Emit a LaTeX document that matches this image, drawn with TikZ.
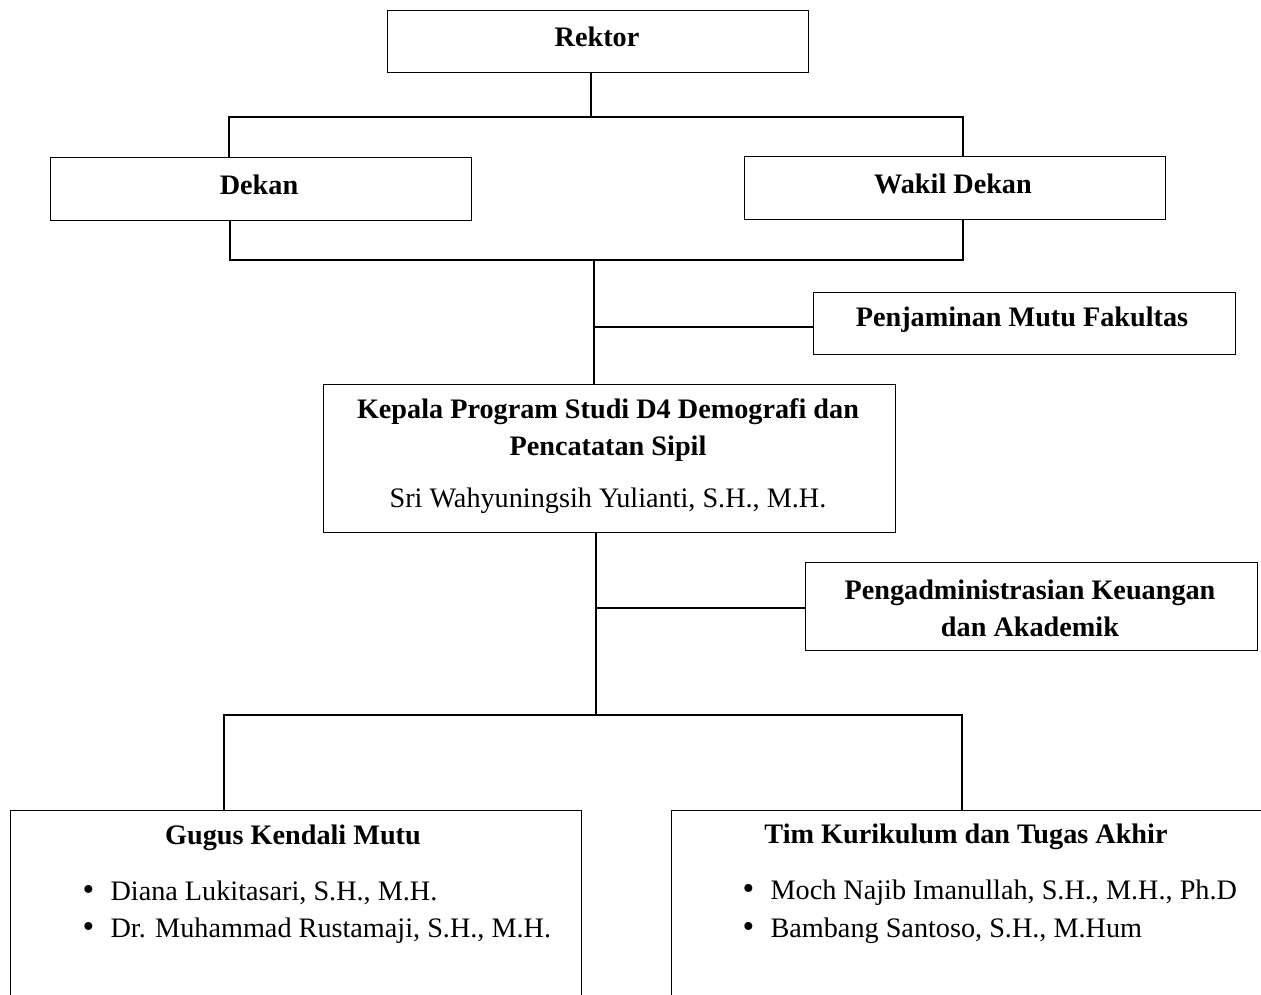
\documentclass[tikz,border=0pt]{standalone}
\usepackage{fontspec}
\setmainfont{Liberation Serif}
\usetikzlibrary{calc,positioning}

\tikzset{
	box/.style={draw, anchor=north west, inner sep=0pt},
	ttl/.style={font=\fontsize{12.7}{16.5}\selectfont\bfseries, align=center, inner sep=0pt},
	nm/.style={font=\fontsize{12.7}{16.5}\selectfont, anchor=west, inner sep=0pt},
}
\newcommand{\blt}{\makebox[12.6pt][l]{\fontsize{15}{15}\selectfont\textbullet}}

\begin{document}
\begin{tikzpicture}[x=0.45pt, y=-0.45pt, line width=0.5pt]
	\clip (0,0) rectangle (1261,994);
	
	%Drawing boxes
	\node[box, minimum width=421*0.45pt, minimum height=62*0.45pt] (rektor) at (387,10) {};
	\node[box, minimum width=421*0.45pt, minimum height=63*0.45pt] (dekan) at (50,157) {};
	\node[box, minimum width=421*0.45pt, minimum height=63*0.45pt] (wakil) at (744,156) {};
	\node[box, minimum width=422*0.45pt, minimum height=62*0.45pt] (pmf) at (813,292) {};
	\node[box, minimum width=572*0.45pt, minimum height=148*0.45pt] (kaprodi) at (323,384) {};
	\node[box, minimum width=452*0.45pt, minimum height=88*0.45pt] (admin) at (805,562) {};
	\node[box, minimum width=571*0.45pt, minimum height=220*0.45pt] (gkm) at (10,810) {};
	\node[box, minimum width=620*0.45pt, minimum height=220*0.45pt] (tim) at (671,810) {};
	
	%Texts
	\node[ttl] (rektor-t) at (597,37) {Rektor};
	\node[ttl] (dekan-t) at (259,185) {Dekan};
	\node[ttl] (wakil-t) at (953,184) {Wakil Dekan};
	\node[ttl] (pmf-t) at (1022,320) {Penjaminan Mutu Fakultas};
	\node[ttl] (kaprodi-t) at (608,430) {Kepala Program Studi D4 Demografi dan\\Pencatatan Sipil};
	\node[font=\fontsize{12.7}{16.5}\selectfont, inner sep=0pt] (kaprodi-n) at (608,501) {Sri Wahyuningsih Yulianti, S.H., M.H.};
	\node[ttl] (admin-t) at (1030,608) {Pengadministrasian Keuangan\\dan Akademik};
	\node[ttl] (gkm-t) at (293,838) {Gugus Kendali Mutu};
	\node[ttl] (tim-t) at (966,837) {Tim Kurikulum dan Tugas Akhir};
	
	\node[nm] (gkm-1) at (82,893) {\blt Diana Lukitasari, S.H., M.H.};
	\node[nm] (gkm-2) at (82,931) {\blt Dr. Muhammad Rustamaji, S.H., M.H.};
	\node[nm] (tim-1) at (742,893) {\blt Moch Najib Imanullah, S.H., M.H., Ph.D};
	\node[nm] (tim-2) at (742,931) {\blt Bambang Santoso, S.H., M.Hum};
	
	%Connector points
	\coordinate (top) at (591,117);
	\coordinate (topL) at (229,117);
	\coordinate (topR) at (963,117);
	\coordinate (mid) at (594,260);
	\coordinate (midL) at (230,260);
	\coordinate (midR) at (963,260);
	\coordinate (pmf-j) at (594,327);
	\coordinate (admin-j) at (596,608);
	\coordinate (low) at (596,715);
	\coordinate (lowL) at (224,715);
	\coordinate (lowR) at (962,715);
	
	%Drawing connectors
	\draw (top |- rektor.south) -- (top);
	\draw (topL |- dekan.north) -- (topL) -- (topR) -- (topR |- wakil.north);
	\draw (midL |- dekan.south) -- (midL) -- (midR) -- (midR |- wakil.south);
	\draw (mid) -- (mid |- kaprodi.north);
	\draw (pmf-j) -- (pmf-j -| pmf.west);
	\draw (low |- kaprodi.south) -- (low);
	\draw (admin-j) -- (admin-j -| admin.west);
	\draw (lowL |- gkm.north) -- (lowL) -- (lowR) -- (lowR |- tim.north);
	
\end{tikzpicture}
\end{document}
